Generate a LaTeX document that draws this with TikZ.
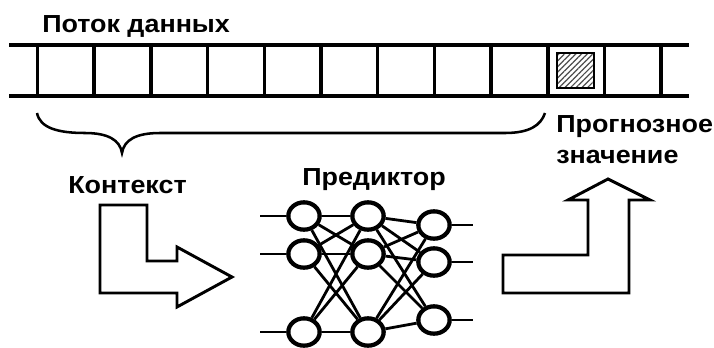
\documentclass[tikz,border=0pt]{standalone}
\usepackage{fontspec}
\setmainfont{Liberation Sans}
\newfontfamily\lblfont[FakeStretch=1.09]{Liberation Sans}
\usetikzlibrary{patterns.meta,shapes.geometric}
\begin{document}
\begin{tikzpicture}[x=0.75pt,y=-0.75pt,
  lbl/.style={font=\lblfont\bfseries\fontsize{18.5}{20}\selectfont, inner sep=0pt, anchor=base west},
  tapeline/.style={line width=3pt},
  cellwall/.style={line width=2.6pt},
  bracestroke/.style={line width=1.9pt},
  bigarrow/.style={line width=2.2pt, line join=miter, fill=white},
  neuron/.style={ellipse, draw, line width=3.2pt, fill=white, inner sep=0pt,
                 minimum width=23.5pt, minimum height=20.5pt},
  link/.style={line width=2.1pt}]
\useasboundingbox (0,0) rectangle (714,347);

% data stream tape
\draw[tapeline] (9,45) -- (689,45);
\draw[tapeline] (9,96) -- (689,96);
\foreach \i in {0,...,11}
  \draw[cellwall] ({37.5+56.7*\i},45) -- ({37.5+56.7*\i},96);
% the predicted cell
\draw[line width=1.1pt, pattern={Lines[angle=45,distance=3pt,line width=0.9pt]},
      pattern color=black!70] (557,53) rectangle (594,88);

\node[lbl] (title) at (42,32) {Поток данных};

% context brace
\draw[bracestroke] (37,113) .. controls (40,128) and (58,133) .. (85,133)
  .. controls (108,133) and (120,140) .. (122,153)
  .. controls (124,140) and (136,133) .. (160,133) -- (505,133)
  .. controls (530,133) and (541,125) .. (545,113);

\node[lbl] (ctx) at (68,193) {Контекст};
\node[lbl] (pred) at (302,185) {Предиктор};
\node[lbl] (fc1) at (556,132) {Прогнозное};
\node[lbl] (fc2) at (556,163) {значение};

% big arrows
\draw[bigarrow] (100,205) -- (147,205) -- (147,261) -- (177,261) -- (177,247)
  -- (232,277) -- (177,307) -- (177,293) -- (100,293) -- cycle;
\draw[bigarrow] (503,293) -- (503,255) -- (588,255) -- (588,200) -- (568,200)
  -- (608,179) -- (650,200) -- (629,200) -- (629,293) -- cycle;

% neural network
\coordinate (i1) at (260,216);
\coordinate (i2) at (260,254);
\coordinate (i3) at (260,332);
\coordinate (o1) at (473,225);
\coordinate (o2) at (473,262);
\coordinate (o3) at (473,320);
\node[neuron] (a1) at (304,216) {};
\node[neuron] (a2) at (304,254) {};
\node[neuron] (a3) at (304,332) {};
\node[neuron] (b1) at (368,216) {};
\node[neuron] (b2) at (368,254) {};
\node[neuron] (b3) at (368,332) {};
\node[neuron] (c1) at (434,225) {};
\node[neuron] (c2) at (434,262) {};
\node[neuron] (c3) at (434,320) {};
\foreach \k in {1,2,3} {
  \draw[link] (i\k) -- (a\k);
  \draw[link] (c\k) -- (o\k);
  \foreach \j in {1,2,3} {
    \draw[link] (a\k) -- (b\j);
    \draw[link] (b\k) -- (c\j);
  }
}
\end{tikzpicture}
\end{document}
